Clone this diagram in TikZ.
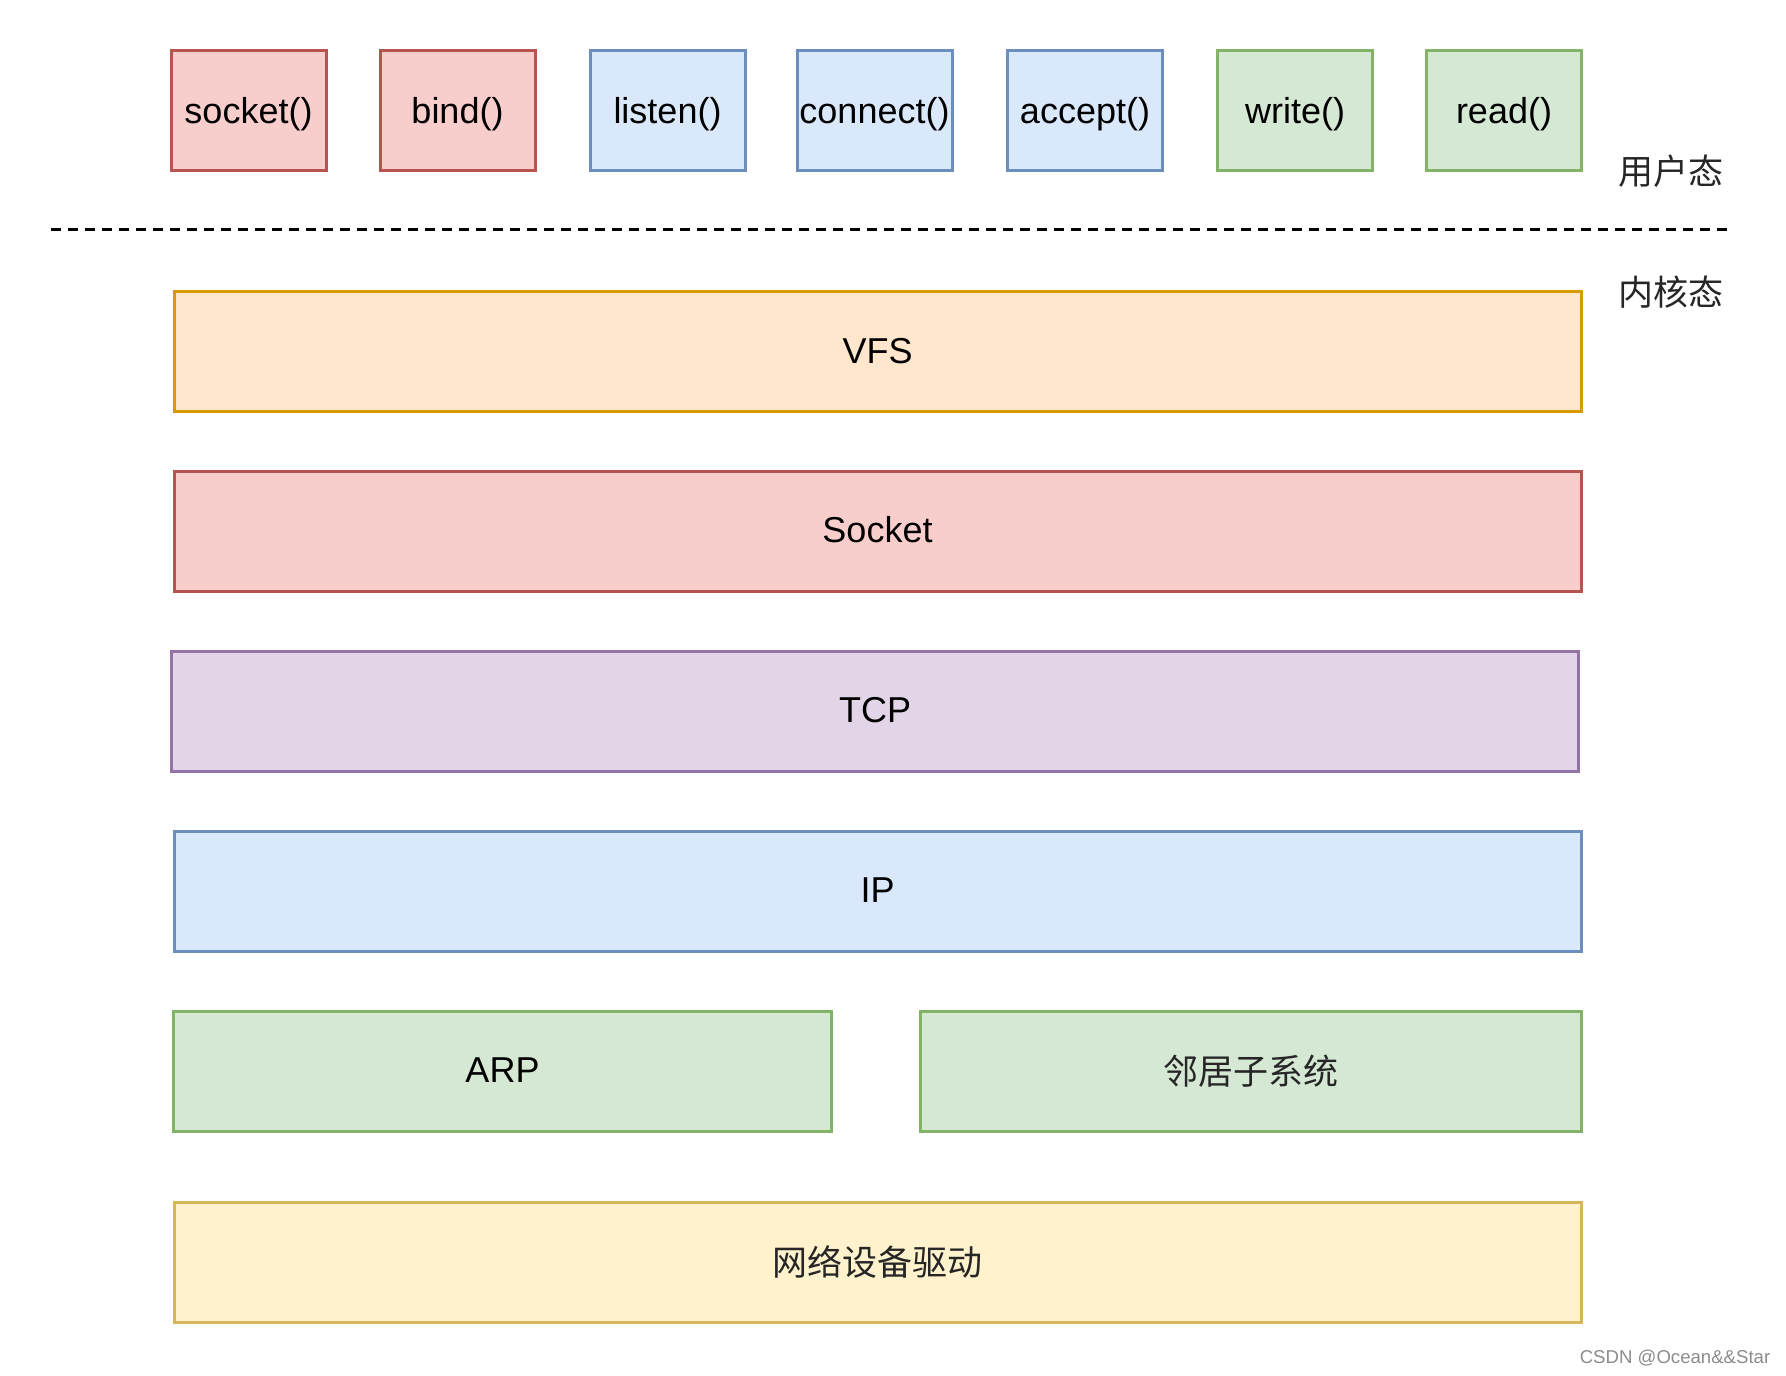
\documentclass[tikz,border=0pt]{standalone}
\usepackage{fontspec}
\setmainfont{Liberation Sans}
\newfontfamily\cjk{Noto Sans CJK SC}
\usetikzlibrary{positioning}
\definecolor{redFill}{HTML}{F8CECC}
\definecolor{redLine}{HTML}{B85450}
\definecolor{blueFill}{HTML}{DAE8FC}
\definecolor{blueLine}{HTML}{6C8EBF}
\definecolor{greenFill}{HTML}{D5E8D4}
\definecolor{greenLine}{HTML}{82B366}
\definecolor{orangeFill}{HTML}{FFE6CC}
\definecolor{orangeLine}{HTML}{D79B00}
\definecolor{purpleFill}{HTML}{E1D5E7}
\definecolor{purpleLine}{HTML}{9673A6}
\definecolor{yellowFill}{HTML}{FFF2CC}
\definecolor{yellowLine}{HTML}{D6B656}
\tikzset{
  call/.style = {draw=#1Line, fill=#1Fill, line width=1.5pt, inner sep=0pt,
    minimum width=77.5pt, minimum height=60pt, font=\fontsize{18}{20}\selectfont,
    text height=14pt, text depth=1.6pt},
  layer/.style = {draw=#1Line, fill=#1Fill, line width=1.5pt, inner sep=0pt,
    minimum width=703.5pt, minimum height=60pt, font=\fontsize{18}{20}\selectfont,
    text height=13.5pt, text depth=2pt},
  half/.style = {layer={#1}, minimum width=329pt},
  cjktext/.style = {font=\cjk\fontsize{17.5}{20}\selectfont, text=black!85},
  border/.style = {line width=1.5pt, dash pattern=on 4.8pt off 3.7pt}
}
\begin{document}
\begin{tikzpicture}[x=0.5pt, y=-0.5pt]

    \useasboundingbox (0,0) rectangle (1786,1375);

    % System calls
    \node[call={red}]    (socket)  at (248.5,111) {socket()};
    \node[call={red}]    (bind)    at (457.5,111) {bind()};
    \node[call={blue}]   (listen)  at (667.5,111) {listen()};
    \node[call={blue}]   (connect) at (874.5,111) {connect()};
    \node[call={blue}]   (accept)  at (1085,111)  {accept()};
    \node[call={green}]  (write)   at (1295,111)  {write()};
    \node[call={green}]  (read)    at (1504,111)  {read()};

    % User / kernel boundary
    \coordinate (sepL) at (51,230);
    \coordinate (sepR) at (1733,230);
    \draw[border] (sepL) -- (sepR);
    \node[cjktext] (user)   at (1671,171) {用户态};
    \node[cjktext] (kernel) at (1671,292) {内核态};

    % Kernel layers
    \node[layer={orange}] (vfs)    at (877.5,351.5) {VFS};
    \node[layer={red}]    (sock)   at (877.5,531)   {Socket};
    \node[layer={purple}] (tcp)    at (875,711)     {TCP};
    \node[layer={blue}]   (ip)     at (877.5,891)   {IP};
    \node[half={green}]   (arp)    at (502.5,1071)  {ARP};
    \node[half={green}, minimum width=330.5pt, cjktext, text height=, text depth=]
                          (neigh)  at (1250.5,1071) {邻居子系统};
    \node[layer={yellow}, cjktext, text height=, text depth=]
                          (driver) at (877.5,1262.5) {网络设备驱动};

    % Watermark
    \node[text=black!45, font=\fontsize{9.3}{11}\selectfont] (mark) at (1675,1358) {CSDN @Ocean\&\&Star};

\end{tikzpicture}
\end{document}
